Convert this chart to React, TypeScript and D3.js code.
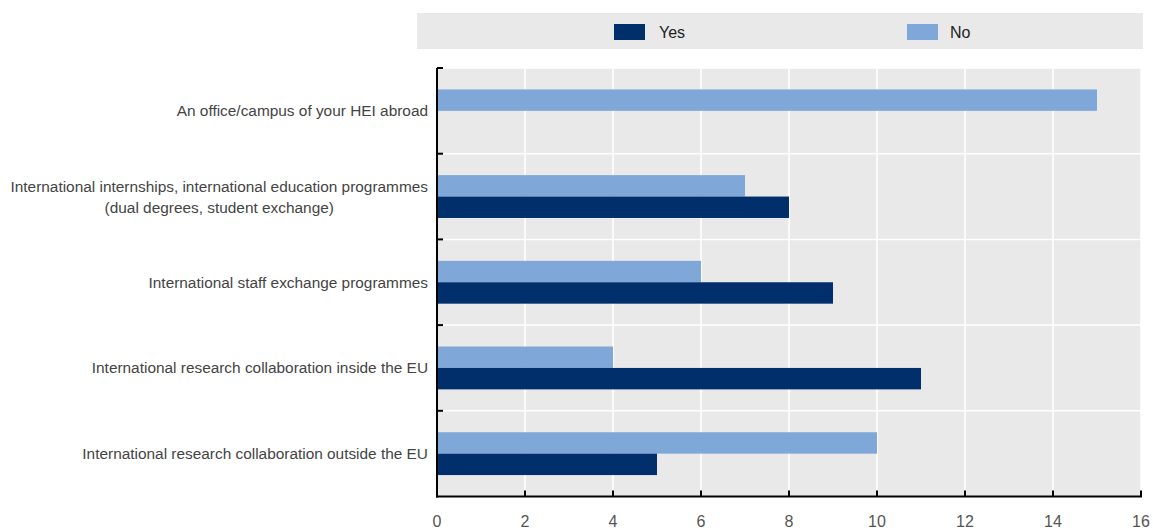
import React from "react";
import * as d3 from "d3";

const categories = [
  ["An office/campus of your HEI abroad"],
  ["International internships, international education programmes", "(dual degrees, student exchange)"],
  ["International staff exchange programmes"],
  ["International research collaboration inside the EU"],
  ["International research collaboration outside the EU"],
];
const yesValues = [0, 8, 9, 11, 5];
const noValues = [15, 7, 6, 4, 10];
const xTicks = [0, 2, 4, 6, 8, 10, 12, 14, 16];
const seriesNames = ["No", "Yes"];
const colors: Record<string, string> = { Yes: "#002f6c", No: "#7fa8d9" };

const W = 1153, H = 530;
const left = 437, right = 1141, top = 68, bottom = 496.5;
const font = "'Liberation Sans', Arial, sans-serif";
const labelSize = 15.4;

function measure(s: string): number {
  const c = document.createElement("canvas").getContext("2d");
  if (!c) return s.length * 7;
  c.font = `${labelSize}px 'Liberation Sans', Arial, sans-serif`;
  return c.measureText(s).width;
}

export default function App() {
  const x = d3.scaleLinear().domain([0, 16]).range([left, right]);
  const idx = categories.map((_, i) => i);
  const y = d3.scaleBand<number>().domain(idx).range([top, bottom]).paddingInner(0).paddingOuter(0);
  const bw = y.bandwidth();
  const inner = d3.scaleBand<string>().domain(seriesNames).range([bw * 0.25, bw * 0.75]);
  const bounds = idx.map((i) => y(i)!).concat([bottom]);
  return (
    <svg width={W} height={H} style={{ position: "absolute", left: 0, top: 0 }}>
      <rect x={417} y={13} width={726} height={36} fill="#e9e9e9" />
      <rect x={614} y={24} width={31} height={16} fill={colors.Yes} />
      <text x={659} y={38} fontFamily={font} fontSize={16} fill="#222">Yes</text>
      <rect x={907} y={24} width={31} height={16} fill={colors.No} />
      <text x={950} y={38} fontFamily={font} fontSize={16} fill="#222">No</text>

      <rect x={left} y={top} width={right - left} height={bottom - top} fill="#e9e9e9" />
      {xTicks.map((t) => (
        <line key={"g" + t} x1={x(t)} x2={x(t)} y1={top} y2={bottom} stroke="#fff" strokeWidth={1.5} />
      ))}
      {bounds.map((b, i) => (
        <line key={"h" + i} x1={left} x2={right} y1={b} y2={b} stroke="#fff" strokeWidth={1.5} />
      ))}
      {idx.map((i) => (
        <g key={"b" + i}>
          <rect x={x(0)} y={y(i)! + inner("No")!} width={x(noValues[i]) - x(0)} height={inner.bandwidth()} fill={colors.No} />
          <rect x={x(0)} y={y(i)! + inner("Yes")!} width={x(yesValues[i]) - x(0)} height={inner.bandwidth()} fill={colors.Yes} />
        </g>
      ))}
      <line x1={left} x2={left} y1={top} y2={bottom + 1} stroke="#000" strokeWidth={2} />
      {bounds.slice(0, 5).map((b, i) => (
        <line key={"yt" + i} x1={left} x2={left + 6} y1={b} y2={b} stroke="#000" strokeWidth={2} />
      ))}
      <line x1={left - 1} x2={right + 1} y1={bottom} y2={bottom} stroke="#000" strokeWidth={2} />
      {xTicks.map((t) => (
        <g key={"xt" + t}>
          <line x1={x(t)} x2={x(t)} y1={bottom} y2={bottom - 6} stroke="#000" strokeWidth={2} />
          <text x={x(t)} y={527} textAnchor="middle" fontFamily={font} fontSize={16} fill="#555">{t}</text>
        </g>
      ))}
      {idx.map((i) => {
        const lines = categories[i];
        const c = y(i)! + bw / 2;
        const multi = lines.length > 1;
        const maxW = multi ? Math.max(...lines.map(measure)) : 0;
        const ax = multi ? 428 - maxW / 2 : 428;
        return (
          <text key={"l" + i} textAnchor={multi ? "middle" : "end"} fontFamily={font} fontSize={labelSize} fill="#444">
            {lines.map((ln, j) => (
              <tspan key={j} x={ax} y={c + 5.5 + (j - (lines.length - 1) / 2) * 21}>{ln}</tspan>
            ))}
          </text>
        );
      })}
    </svg>
  );
}
